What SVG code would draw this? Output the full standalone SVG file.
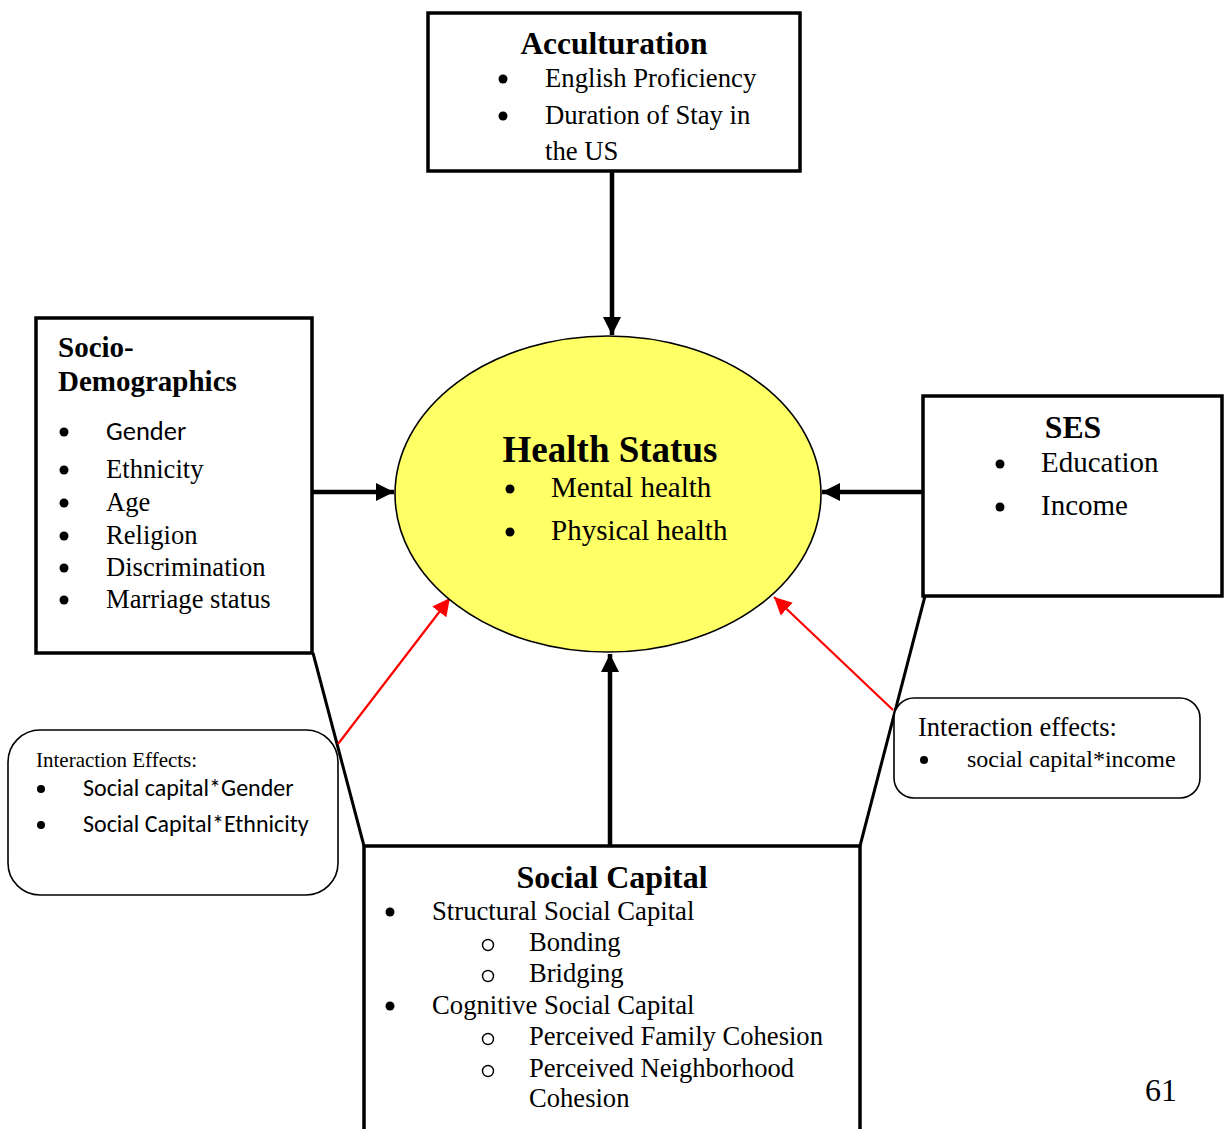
<svg xmlns="http://www.w3.org/2000/svg" width="1225" height="1129" viewBox="0 0 1225 1129">
<style>
.box{fill:#fff;stroke:#000;stroke-width:3.5}
.rbox{fill:#fff;stroke:#000;stroke-width:1.6}
.serif{font-family:"Liberation Serif","Times New Roman",serif;fill:#000}
.sans{font-family:"Carlito","Open Sans","Liberation Sans",sans-serif;fill:#000}
.b{font-weight:bold}
.conn{stroke:#000;stroke-width:4.5;fill:none}
.thin{stroke:#000;stroke-width:3;fill:none}
.red{stroke:#f00;stroke-width:2.2;fill:none}
.sub{fill:none;stroke:#000;stroke-width:1.4}
</style>
<defs>
<marker id="ah" viewBox="0 0 10 10" refX="10" refY="5" markerWidth="4" markerHeight="4" orient="auto" markerUnits="strokeWidth">
<path d="M0,0 L10,5 L0,10 z" fill="#000"/>
</marker>
<marker id="rh" viewBox="0 0 10 10" refX="10" refY="5" markerWidth="8" markerHeight="8" orient="auto" markerUnits="strokeWidth">
<path d="M0,0 L10,5 L0,10 z" fill="#f00"/>
</marker>
</defs>

<g id="connectors">
<line class="conn" x1="612" y1="171" x2="612" y2="335" marker-end="url(#ah)"/>
<line class="conn" x1="312" y1="492" x2="394" y2="492" marker-end="url(#ah)"/>
<line class="conn" x1="923" y1="492" x2="822" y2="492" marker-end="url(#ah)"/>
<line class="conn" x1="610" y1="846" x2="610" y2="654" marker-end="url(#ah)"/>
<line class="thin" x1="313" y1="653" x2="364" y2="846"/>
<line class="thin" x1="925" y1="596" x2="860" y2="846"/>
<line class="red" x1="338" y1="744" x2="450" y2="598" marker-end="url(#rh)"/>
<line class="red" x1="893" y1="710" x2="774" y2="597" marker-end="url(#rh)"/>
</g>

<g id="acculturation">
<rect class="box" x="428" y="13" width="372" height="158"/>
<text class="serif b" x="614" y="54" font-size="31.5" text-anchor="middle">Acculturation</text>
<circle cx="503" cy="79" r="4.5"/>
<text class="serif" x="545" y="87" font-size="26.7">English Proficiency</text>
<circle cx="503" cy="116" r="4.5"/>
<text class="serif" x="545" y="124" font-size="26.7">Duration of Stay in</text>
<text class="serif" x="545" y="160" font-size="26.7">the US</text>
</g>

<g id="health-status">
<ellipse cx="608" cy="494" rx="213" ry="158" fill="#ffff66" stroke="#000" stroke-width="1.6"/>
<text class="serif b" x="610" y="462" font-size="37" text-anchor="middle">Health Status</text>
<circle cx="510" cy="489" r="4.5"/>
<text class="serif" x="551" y="497" font-size="29">Mental health</text>
<circle cx="510" cy="532" r="4.5"/>
<text class="serif" x="551" y="540" font-size="29">Physical health</text>
</g>

<g id="socio-demographics">
<rect class="box" x="36" y="318" width="276" height="335"/>
<text class="serif b" x="58" y="357" font-size="29">Socio-</text>
<text class="serif b" x="58" y="391" font-size="29">Demographics</text>
<circle cx="64" cy="432" r="4.5"/>
<text class="sans" x="106" y="440" font-size="26.5">Gender</text>
<circle cx="64" cy="470" r="4.5"/>
<text class="serif" x="106" y="478" font-size="26.6">Ethnicity</text>
<circle cx="64" cy="503" r="4.5"/>
<text class="serif" x="106" y="511" font-size="26.6">Age</text>
<circle cx="64" cy="536" r="4.5"/>
<text class="serif" x="106" y="544" font-size="26.6">Religion</text>
<circle cx="64" cy="568" r="4.5"/>
<text class="serif" x="106" y="576" font-size="26.6">Discrimination</text>
<circle cx="64" cy="600" r="4.5"/>
<text class="serif" x="106" y="608" font-size="26.6">Marriage status</text>
</g>

<g id="ses">
<rect class="box" x="923" y="396" width="299" height="200"/>
<text class="serif b" x="1073" y="438" font-size="31.7" text-anchor="middle">SES</text>
<circle cx="1000" cy="464" r="4.5"/>
<text class="serif" x="1041" y="472" font-size="29">Education</text>
<circle cx="1000" cy="507" r="4.5"/>
<text class="serif" x="1041" y="515" font-size="29">Income</text>
</g>

<g id="social-capital">
<rect class="box" x="364" y="846" width="496" height="300"/>
<text class="serif b" x="612" y="888" font-size="32" text-anchor="middle">Social Capital</text>
<circle cx="390" cy="912" r="4.5"/>
<text class="serif" x="432" y="920" font-size="26.7">Structural Social Capital</text>
<circle class="sub" cx="488" cy="945" r="5.5"/>
<text class="serif" x="529" y="951" font-size="26.6">Bonding</text>
<circle class="sub" cx="488" cy="976" r="5.5"/>
<text class="serif" x="529" y="982" font-size="26.6">Bridging</text>
<circle cx="390" cy="1006" r="4.5"/>
<text class="serif" x="432" y="1014" font-size="26.7">Cognitive Social Capital</text>
<circle class="sub" cx="488" cy="1039" r="5.5"/>
<text class="serif" x="529" y="1045" font-size="26.6">Perceived Family Cohesion</text>
<circle class="sub" cx="488" cy="1071" r="5.5"/>
<text class="serif" x="529" y="1077" font-size="26.6">Perceived Neighborhood</text>
<text class="serif" x="529" y="1107" font-size="26.6">Cohesion</text>
</g>

<g id="interaction-left">
<rect class="rbox" x="8" y="730" width="330" height="165" rx="32"/>
<text class="serif" x="36" y="767" font-size="21">Interaction Effects:</text>
<circle cx="41" cy="789" r="4"/>
<text class="sans" x="83" y="796" font-size="24">Social capital*Gender</text>
<circle cx="41" cy="825" r="4"/>
<text class="sans" x="83" y="832" font-size="24">Social Capital*Ethnicity</text>
</g>

<g id="interaction-right">
<rect class="rbox" x="894" y="698" width="306" height="100" rx="20"/>
<text class="serif" x="918" y="736" font-size="26.5">Interaction effects:</text>
<circle cx="924" cy="760" r="4"/>
<text class="serif" x="967" y="767" font-size="24">social capital*income</text>
</g>

<text class="serif" x="1145" y="1101" font-size="32">61</text>
</svg>
